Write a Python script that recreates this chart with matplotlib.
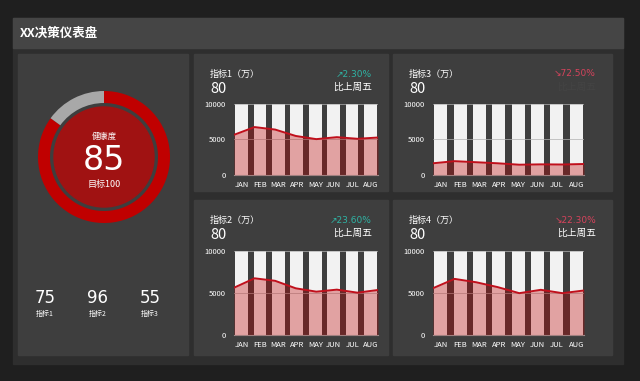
import matplotlib
matplotlib.use("Agg")
import matplotlib.pyplot as plt
import numpy as np
from matplotlib.patches import Rectangle, Circle

plt.rcParams['font.family'] = ['Noto Sans CJK SC', 'DejaVu Sans']

W, H = 640, 381

# Data
months = ['JAN', 'FEB', 'MAR', 'APR', 'MAY', 'JUN', 'JUL', 'AUG']
bar_max = [10000, 10000, 10000, 10000, 10000, 10000, 10000, 10000]
values_1 = [5660, 6750, 6400, 5500, 5050, 5330, 5100, 5280]
values_2 = [5630, 6750, 6450, 5560, 5160, 5400, 5040, 5360]
values_3 = [1650, 1950, 1800, 1650, 1450, 1500, 1480, 1550]
values_4 = [5570, 6680, 6280, 5700, 4980, 5380, 4980, 5300]
panel_titles = ['指标1（万）', '指标2（万）', '指标3（万）', '指标4（万）']
panel_values = ['80', '80', '80', '80']
changes = ['↗2.30%', '↗23.60%', '↘72.50%', '↘22.30%']
health = 85
health_target = 100
sub_values = ['75', '96', '55']
sub_labels = ['指标1', '指标2', '指标3']

up_color = '#2fb3a4'
down_color = '#d6435c'
bg_dark = '#1f1f1f'
container = '#2e2e2e'
title_bar = '#454545'
panel_col = '#3e3e3e'
red = '#c00000'
narrow = ['DejaVu Sans Condensed', 'Liberation Sans Narrow', 'DejaVu Sans']


def fx(x):
    return x / W


def fy(y):
    return 1 - y / H


def box(x0, y0, x1, y1, color):
    fig.add_artist(Rectangle((fx(x0), fy(y1)), (x1 - x0) / W, (y1 - y0) / H,
                             transform=fig.transFigure, color=color, zorder=0))


def axrect(x0, y0, x1, y1):
    return [fx(x0), fy(y1), (x1 - x0) / W, (y1 - y0) / H]


fig = plt.figure(figsize=(W / 100, H / 100), dpi=100, facecolor=bg_dark)

# Frames
box(13, 18, 623, 364, container)
box(13, 18, 623, 48, title_bar)
fig.text(fx(20), fy(33), 'XX决策仪表盘', color='white', fontsize=9,
         fontweight='bold', va='center', ha='left')

box(18, 54, 188, 355, panel_col)
box(194, 54, 388, 191, panel_col)
box(393, 54, 612, 191, panel_col)
box(194, 200, 388, 355, panel_col)
box(393, 200, 612, 355, panel_col)

# Donut
dax = fig.add_axes(axrect(104 - 70, 157 - 70, 104 + 70, 157 + 70))
dax.set_facecolor('none')
dax.pie([health, health_target - health], colors=[red, '#a8a8a8'], startangle=90,
        counterclock=False, radius=66 / 70,
        wedgeprops=dict(width=12 / 70, edgecolor='none'))
dax.add_patch(Circle((0, 0), 50 / 70, color='#a01212'))
dax.set_xlim(-1, 1)
dax.set_ylim(-1, 1)
dax.set_aspect('equal')
dax.axis('off')

fig.text(fx(104), fy(136), '健康度', color='white', fontsize=6, ha='center', va='center')
fig.text(fx(104), fy(160), str(health), color='white', fontsize=24, ha='center', va='center',
         family=narrow)
fig.text(fx(104), fy(184), '目标' + str(health_target), color='white', fontsize=6.5,
         ha='center', va='center')

for i, (v, lab) in enumerate(zip(sub_values, sub_labels)):
    x = 45 + i * 52.5
    fig.text(fx(x), fy(298), v, color='white', fontsize=12, ha='center', va='center',
             family=narrow)
    fig.text(fx(x), fy(314), lab, color='white', fontsize=5, ha='center', va='center')


def panel(px0, py0, px1, ax_box, values, title, value, change, show_sub):
    x_text = px0 + 16
    fig.text(fx(x_text), fy(py0 + 20), title, color='white', fontsize=6.5, va='center')
    fig.text(fx(x_text), fy(py0 + 35), value, color='white', fontsize=10.5, va='center')
    col = up_color if change.startswith('↗') else down_color
    fig.text(fx(px1 - 16), fy(py0 + 20), change, color=col, fontsize=6.5, va='center',
             ha='right', family=['DejaVu Sans', 'Noto Sans CJK SC'])
    fig.text(fx(px1 - 16), fy(py0 + 33), '比上周五', fontsize=7, va='center', ha='right',
             color='white' if show_sub else '#444444')

    ax = fig.add_axes(axrect(*ax_box))
    ax.set_facecolor('none')
    x = np.arange(len(months))
    ax.bar(x, bar_max, width=0.68, color='#f2f2f2', zorder=1)
    ax.set_xlim(-0.4, len(months) - 0.6)
    ax.set_ylim(0, 10000)
    ax.set_yticks([0, 5000, 10000])
    ax.set_yticklabels(['0', '5000', '10000'])
    ax.set_xticks(x)
    ax.set_xticklabels(months)
    ax.tick_params(colors='white', labelsize=5.5, length=0)
    ax.tick_params(axis='y', pad=6)
    ax.tick_params(axis='x', pad=4)
    for s in ['top', 'right', 'left']:
        ax.spines[s].set_visible(False)
    ax.spines['bottom'].set_color('#9a9a9a')
    ax.spines['bottom'].set_linewidth(0.8)
    ax.yaxis.grid(True, color='#b0b0b0', linewidth=0.5)
    ax.set_axisbelow(False)

    ax2 = ax.twiny()
    ax2.set_xlim(0, len(values) - 1)
    ax2.set_ylim(0, 10000)
    xs = np.arange(len(values))
    ax2.fill_between(xs, values, color=red, alpha=0.33, linewidth=0)
    ax2.plot(xs, values, color='#c0101c', linewidth=1.4)
    ax2.axis('off')


panel(194, 54, 388, (234, 104, 378, 175), values_1, panel_titles[0], panel_values[0], changes[0], True)
panel(194, 200, 388, (234, 251, 378, 335), values_2, panel_titles[1], panel_values[1], changes[1], True)
panel(393, 54, 612, (433, 104, 584, 175), values_3, panel_titles[2], panel_values[2], changes[2], False)
panel(393, 200, 612, (433, 251, 584, 335), values_4, panel_titles[3], panel_values[3], changes[3], True)

fig.savefig('out.png', dpi=100, facecolor=bg_dark)
